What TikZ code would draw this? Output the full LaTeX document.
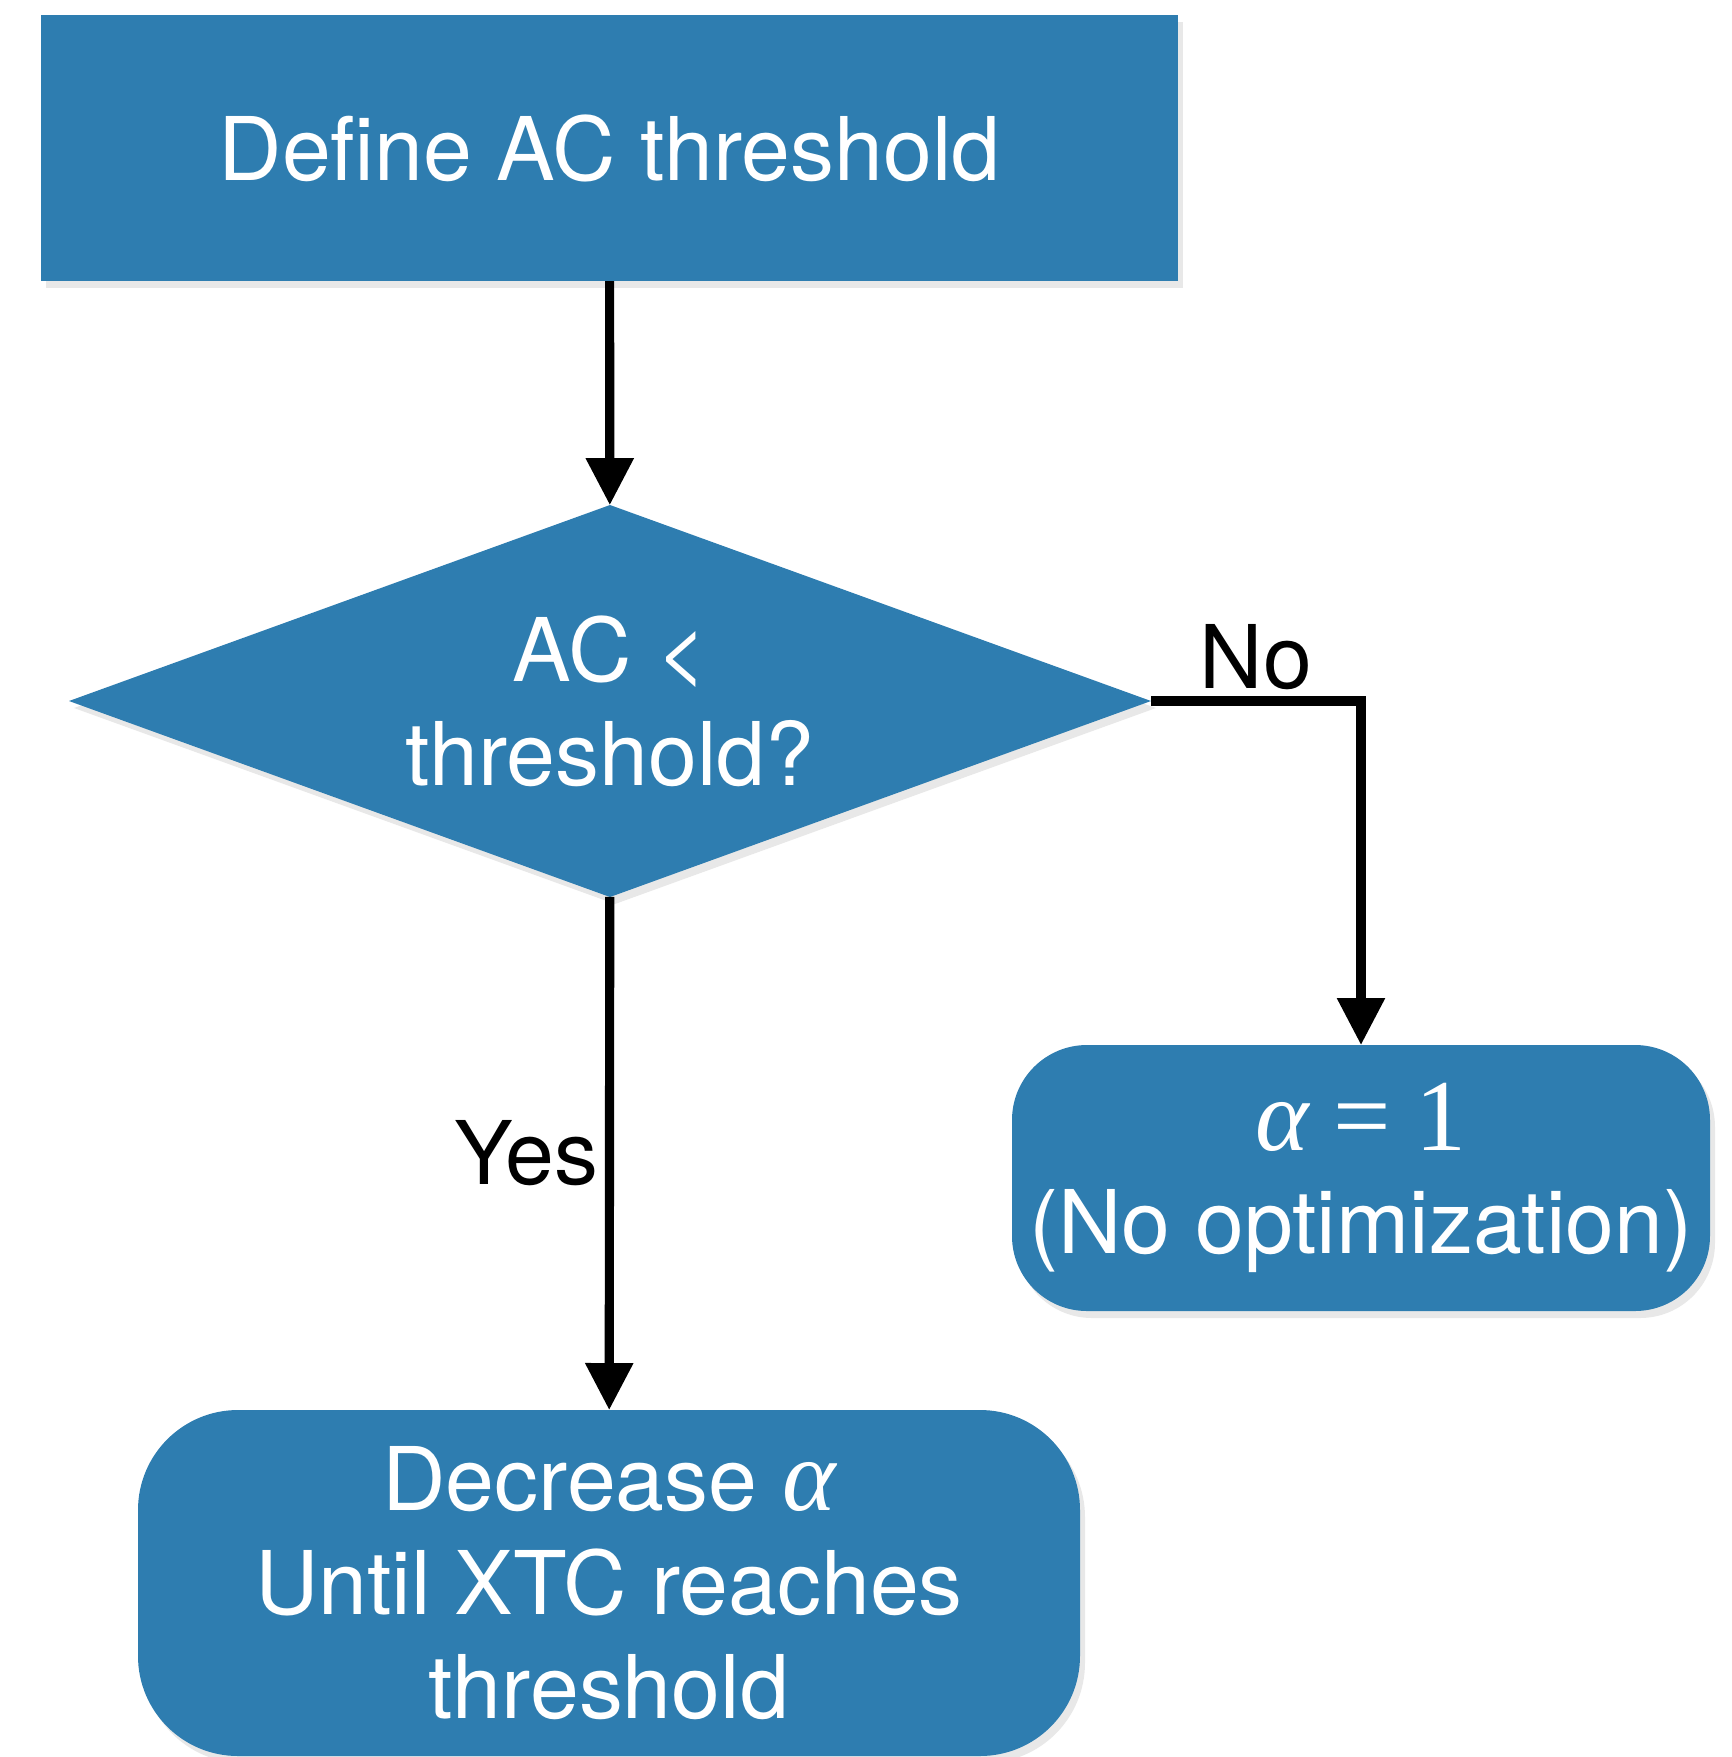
\documentclass[tikz,border=0pt]{standalone}
\usepackage{fontspec}
\setmainfont{TeX Gyre Heros}
\newfontfamily\serifpart{Liberation Serif}
\newcommand{\alphasym}{{\serifpart\fontsize{29}{29.5}\selectfont\itshape α}}
\usepackage{xcolor}
\usepackage{tikz}
\usetikzlibrary{positioning,arrows.meta,shapes.geometric,shadows}
\definecolor{flowblue}{HTML}{2E7DB0}

\begin{document}
\begin{tikzpicture}[
  block/.style={rectangle, fill=flowblue, text=white, align=center, outer sep=0pt,
    font=\fontsize{25}{29.5}\selectfont,
    drop shadow={opacity=0.18, shadow xshift=0.05cm, shadow yshift=-0.07cm}},
  decision/.style={block, diamond, inner sep=0pt, aspect=2.76},
  arrow/.style={-{Triangle[length=4.7mm, width=4.6mm]}, line width=2.6pt},
  answer/.style={font=\fontsize{25}{29.5}\selectfont, inner sep=2pt}
]
  \useasboundingbox (0,0) rectangle (17.32,-17.57);

  % Boxes
  \node[block, minimum width=11.37cm, minimum height=2.66cm] (define) at (6.095, -1.48) {Define AC threshold};
  \node[decision, minimum width=10.82cm, minimum height=3.92cm] (check) at (6.10, -7.01) {AC <\\threshold?};
  \node[block, rounded corners=0.75cm, minimum width=6.98cm, minimum height=2.66cm] (keep) at (13.61, -11.78)
    {\alphasym{} {\serifpart\fontsize{29}{29.5}\selectfont = 1}\\(No optimization)};
  \node[block, rounded corners=1cm, minimum width=9.42cm, minimum height=3.46cm] (lower) at (6.09, -15.83)
    {Decrease \alphasym\\Until XTC reaches\\threshold};

  % Connectors
  \draw[arrow] (define) -- (check);
  \draw[arrow] (check) -- node[answer, left] (yes) {Yes} (lower);
  \draw[arrow] (check) -| node[answer, above, pos=0.25] (no) {No} (keep);
\end{tikzpicture}
\end{document}
